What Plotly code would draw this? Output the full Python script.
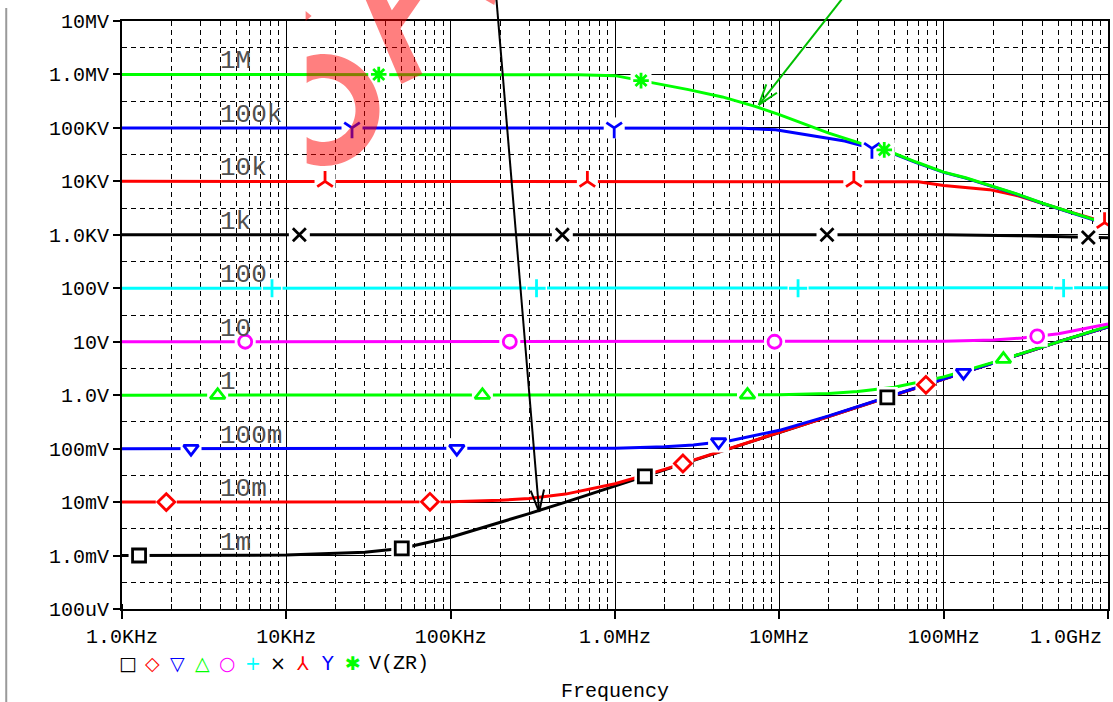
import numpy as np
import plotly.graph_objects as go

# ---------------- data ----------------
res_labels = ["1m", "10m", "100m", "1", "10", "100", "1k", "10k", "100k", "1M"]
res_values = [1e-3, 1e-2, 1e-1, 1.0, 10.0, 100.0, 1e3, 1e4, 1e5, 1e6]

freq_low = [1e3, 1e4, 3e4, 5e4, 1e5, 2e5, 3e5, 5e5, 1e6, 2e6, 3e6, 5e6,
            1e7, 2e7, 3e7, 5e7, 1e8, 2e8, 3e8, 5e8, 1e9]
v_1m = [1.0e-3, 1.02e-3, 1.15e-3, 1.35e-3, 2.2e-3, 4.1e-3, 6.1e-3, 1.0e-2, 2.0e-2, 4.0e-2, 6.0e-2,
        0.10, 0.20, 0.40, 0.60, 1.0, 2.0, 4.0, 6.0, 10.0, 19.0]
v_10m = [1.0e-2, 1.0e-2, 1.0e-2, 1.0e-2, 1.02e-2, 1.08e-2, 1.17e-2, 1.41e-2, 2.2e-2, 4.1e-2, 6.1e-2,
         0.10, 0.20, 0.40, 0.60, 1.0, 2.0, 4.0, 6.0, 10.0, 19.0]
v_100m = [0.1, 0.1, 0.1, 0.1, 0.1, 0.1, 0.1, 0.1, 0.102, 0.108, 0.117,
          0.141, 0.22, 0.41, 0.61, 1.0, 2.0, 4.0, 6.0, 10.0, 19.0]
v_1 = [1.0, 1.0, 1.0, 1.0, 1.0, 1.0, 1.0, 1.0, 1.0, 1.0, 1.0,
       1.005, 1.02, 1.08, 1.17, 1.41, 2.2, 4.1, 6.1, 10.0, 19.5]
v_10 = [10.0, 10.0, 10.0, 10.0, 10.0, 10.0, 10.0, 10.0, 10.0, 10.0, 10.0,
        10.0, 10.0, 10.0, 10.0, 10.05, 10.2, 10.8, 11.7, 14.1, 21.5]
v_100 = [100.0, 100.0, 100.0, 100.0, 100.0, 100.0, 100.0, 100.0, 100.0, 100.0, 100.0,
         100.0, 100.0, 100.0, 100.0, 100.0, 100.0, 100.0, 100.2, 100.5, 102.0]

freq_1k = [1e3, 1e8, 3e8, 6e8, 1e9]
v_1k = [1000.0, 1000.0, 960.0, 900.0, 880.0]

freq_10k = [1e3, 3e7, 7e7, 1e8, 1.36e8, 1.9e8, 2.75e8, 4e8, 5.8e8, 8.4e8, 1e9]
v_10k = [1e4, 1e4, 9.8e3, 8.4e3, 7.8e3, 7.0e3, 5.5e3, 3.8e3, 2.7e3, 1.95e3, 1.6e3]

freq_100k = [1e3, 3e6, 6e6, 9.5e6, 1.45e7, 2e7, 2.5e7, 3.6e7, 4.6e7, 6.8e7, 1e8,
             1.36e8, 1.9e8, 2.75e8, 4e8, 5.8e8, 8.4e8, 1e9]
v_100k = [1e5, 1e5, 9.9e4, 9.2e4, 7.4e4, 6.4e4, 5.7e4, 4.2e4, 3.6e4, 2.25e4, 1.47e4,
          1.15e4, 8.3e3, 5.8e3, 3.85e3, 2.65e3, 1.85e3, 1.6e3]

freq_1M = [1e3, 1e5, 6e5, 1e6, 1.4e6, 1.8e6, 2.8e6, 4.5e6, 7.2e6, 1e7, 1.45e7, 2e7,
           3.1e7, 4.6e7, 6.8e7, 1e8, 1.36e8, 1.9e8, 2.75e8, 4e8, 5.8e8, 8.4e8, 1e9]
v_1M = [1e6, 1e6, 9.9e5, 9.5e5, 7.8e5, 6.8e5, 5.2e5, 3.8e5, 2.5e5, 1.77e5, 1.15e5, 8.0e4,
        5.2e4, 3.7e4, 2.3e4, 1.49e4, 1.17e4, 8.4e3, 5.9e3, 3.9e3, 2.7e3, 1.88e3, 1.65e3]

# marker frequencies (PSpice symbol positions)
mk_1m = [1.27e3, 5.04e4, 1.52e6, 4.54e7]
mk_10m = [1.86e3, 7.48e4, 2.59e6, 7.8e7]
mk_100m = [2.63e3, 1.09e5, 4.27e6, 1.32e8]
mk_1 = [3.82e3, 1.56e5, 6.4e6, 2.31e8]
mk_10 = [5.62e3, 2.29e5, 9.35e6, 3.71e8]
mk_100 = [8.18e3, 3.33e5, 1.30e7, 5.37e8]
mk_1k = [1.20e4, 4.78e5, 1.95e7, 7.59e8]
mk_10k = [1.72e4, 6.79e5, 2.84e7, 9.53e8]
mk_100k = [2.51e4, 9.89e5, 3.66e7]
mk_1M = [3.65e4, 1.44e6, 4.35e7]

x_tickvals = [1e3, 1e4, 1e5, 1e6, 1e7, 1e8, 1e9]
x_ticktext = ["1.0KHz", "10KHz", "100KHz", "1.0MHz", "10MHz", "100MHz", ""]
y_tickvals = [1e-4, 1e-3, 1e-2, 1e-1, 1e0, 1e1, 1e2, 1e3, 1e4, 1e5, 1e6, 1e7]
y_ticktext = ["100uV", "1.0mV", "10mV", "100mV", "1.0V", "10V", "100V",
              "1.0KV", "10KV", "100KV", "1.0MV", "10MV"]

legend_glyphs = ["\u25a1", "\u25c7", "\u25bd", "\u25b3", "\u25cb", "+", "\u00d7", "\u2144", "Y", "\u2731"]
legend_name = "V(ZR)"
x_title = "Frequency"

# ---------------- styling ----------------
colors = ["#000000", "#FF0000", "#0000FF", "#00FF00", "#FF00FF", "#00FFFF",
          "#000000", "#FF0000", "#0000FF", "#00FF00"]
symbols = ["square-open", "diamond-open", "triangle-down-open", "triangle-up-open", "circle-open",
           "cross-thin-open", "x-thin-open", "y-up-open", "y-down-open", "asterisk-open"]
MONO = "Liberation Mono, DejaVu Sans Mono, monospace"

curves = [
    (freq_low, v_1m, mk_1m), (freq_low, v_10m, mk_10m), (freq_low, v_100m, mk_100m),
    (freq_low, v_1, mk_1), (freq_low, v_10, mk_10), (freq_low, v_100, mk_100),
    (freq_1k, v_1k, mk_1k), (freq_10k, v_10k, mk_10k), (freq_100k, v_100k, mk_100k),
    (freq_1M, v_1M, mk_1M),
]

# plot area in pixels
L, R, T, B = 122, 1110, 21, 609
W, H = 1113, 702


def pxx(x):
    return (x - L) / (R - L)


def pxy(y):
    return (B - y) / (B - T)


fig = go.Figure()

# lines
for (f, v, mk), c in zip(curves, colors):
    fig.add_trace(go.Scatter(x=f, y=v, mode="lines", line=dict(color=c, width=3),
                             showlegend=False, hoverinfo="skip"))

# marker positions on the curves
marker_pts = []
for (f, v, mk) in curves:
    ym = 10 ** np.interp(np.log10(mk), np.log10(f), np.log10(v))
    marker_pts.append((mk, ym))

# erase patches (PSpice breaks the trace around a symbol)
for (mk, ym) in marker_pts:
    fig.add_trace(go.Scatter(x=mk, y=ym, mode="markers",
                             marker=dict(symbol="square", size=21, color="white",
                                         line=dict(width=0)),
                             showlegend=False, hoverinfo="skip"))

# symbols
for (mk, ym), c, s in zip(marker_pts, colors, symbols):
    fig.add_trace(go.Scatter(x=mk, y=ym, mode="markers",
                             marker=dict(symbol=s, size=13, color=c,
                                         line=dict(color=c, width=2.8)),
                             showlegend=False, hoverinfo="skip"))

annotations = []
# resistor value labels above the lines
for lab, rv in zip(res_labels, res_values):
    annotations.append(dict(xref="paper", yref="y", x=pxx(218), y=np.log10(rv), yshift=13,
                            text=lab, showarrow=False, xanchor="left", yanchor="middle",
                            font=dict(family=MONO, size=26, color="#505050")))

# last x tick label (shifted inside like PSpice)
annotations.append(dict(xref="paper", yref="paper", x=pxx(1106), y=pxy(637), text="1.0GHz",
                        showarrow=False, xanchor="right", yanchor="middle",
                        font=dict(family=MONO, size=20, color="black")))

# legend row
for i, (g, c) in enumerate(zip(legend_glyphs, colors)):
    annotations.append(dict(xref="paper", yref="paper", x=pxx(128 + 25 * i), y=pxy(663), text=g,
                            showarrow=False, xanchor="center", yanchor="middle",
                            font=dict(family="DejaVu Sans, DejaVu Sans Mono", size=19, color=c)))
annotations.append(dict(xref="paper", yref="paper", x=pxx(400), y=pxy(663), text=legend_name,
                        showarrow=False, xanchor="center", yanchor="middle",
                        font=dict(family=MONO, size=20, color="black")))
annotations.append(dict(xref="paper", yref="paper", x=pxx(616), y=pxy(692), text=x_title,
                        showarrow=False, xanchor="center", yanchor="middle",
                        font=dict(family=MONO, size=20, color="black")))

shapes = []


def poly_path(pts):
    return "M " + " L ".join(f"{pxx(x):.5f},{pxy(y):.5f}" for x, y in pts) + " Z"


# watermark fragments (semi transparent red)
cx, cy, ro, ri = 324.0, 110.0, 56.0, 32.0
ao = np.arccos((307 - cx) / ro)
ai = np.arccos((307 - cx) / ri)
th_o = np.linspace(-ao, ao, 60)
th_i = np.linspace(ai, -ai, 60)
ring = [(cx + ro * np.cos(t), cy + ro * np.sin(t)) for t in th_o] + \
       [(cx + ri * np.cos(t), cy + ri * np.sin(t)) for t in th_i]
wm_color = "rgba(255,0,0,0.5)"
shapes.append(dict(type="path", xref="paper", yref="paper", path=poly_path(ring),
                   fillcolor=wm_color, line=dict(width=0), layer="above"))
stroke = [(365, -3), (386, -3), (423, 74), (402, 84)]
arm = [(402, -3), (423, -3), (398, 33), (384, 22)]
path2 = poly_path(stroke) + " " + poly_path(arm)
shapes.append(dict(type="path", xref="paper", yref="paper", path=path2, fillrule="nonzero",
                   fillcolor=wm_color, line=dict(width=0), layer="above"))
shapes.append(dict(type="path", xref="paper", yref="paper",
                   path=poly_path([(306, 11), (306, 21), (312, 16)]),
                   fillcolor=wm_color, line=dict(width=0), layer="above"))
shapes.append(dict(type="path", xref="paper", yref="paper",
                   path=poly_path([(481, -3), (497, -3), (495, 5)]),
                   fillcolor=wm_color, line=dict(width=0), layer="above"))


def arrow(x0, y0, x1, y1, color, head=23, ang=17):
    shapes.append(dict(type="line", xref="paper", yref="paper", x0=pxx(x0), y0=pxy(y0),
                       x1=pxx(x1), y1=pxy(y1), line=dict(color=color, width=2), layer="above"))
    d = np.array([x0 - x1, y0 - y1], float)
    d /= np.hypot(*d)
    for a in (np.radians(ang), -np.radians(ang)):
        rot = np.array([[np.cos(a), -np.sin(a)], [np.sin(a), np.cos(a)]])
        p = np.array([x1, y1]) + head * rot @ d
        shapes.append(dict(type="line", xref="paper", yref="paper", x0=pxx(x1), y0=pxy(y1),
                           x1=pxx(p[0]), y1=pxy(p[1]), line=dict(color=color, width=2),
                           layer="above"))


arrow(497, -3, 540, 512, "black")
arrow(845, -3, 760, 105, "rgb(0,190,0)", head=22, ang=18)

# window border line at the far left
shapes.append(dict(type="line", xref="paper", yref="paper", x0=pxx(6), x1=pxx(6),
                   y0=pxy(8), y1=pxy(702), line=dict(color="#9a9a9a", width=2), layer="above"))

fig.update_layout(
    width=W, height=H, autosize=False,
    margin=dict(l=L, r=W - R, t=T, b=H - B, pad=0),
    paper_bgcolor="white", plot_bgcolor="white",
    showlegend=False,
    annotations=annotations, shapes=shapes,
    xaxis=dict(type="log", range=[3, 9], tickmode="array", tickvals=x_tickvals,
               ticktext=x_ticktext, ticks="outside", ticklen=8, tickwidth=1.5, tickcolor="black",
               showline=True, linecolor="black", linewidth=2, mirror=True,
               showgrid=True, gridcolor="black", gridwidth=1, zeroline=False,
               tickfont=dict(family=MONO, size=20, color="black"),
               minor=dict(dtick="D1", showgrid=True, gridcolor="black", gridwidth=1,
                          griddash="5px,4px", ticks="inside", ticklen=5, tickcolor="black",
                          tickwidth=1)),
    yaxis=dict(type="log", range=[-4, 7], tickmode="array", tickvals=y_tickvals,
               ticktext=y_ticktext, ticks="outside", ticklen=7, tickwidth=1.5, tickcolor="black",
               showline=True, linecolor="black", linewidth=2, mirror=True,
               showgrid=True, gridcolor="black", gridwidth=1, zeroline=False,
               tickfont=dict(family=MONO, size=20, color="black"),
               minor=dict(tickmode="array", tickvals=[10 ** (k + 0.5) for k in range(-4, 7)],
                          showgrid=True, gridcolor="black", gridwidth=1,
                          griddash="5px,4px", ticks="")),
)

fig.write_html("out.html")
